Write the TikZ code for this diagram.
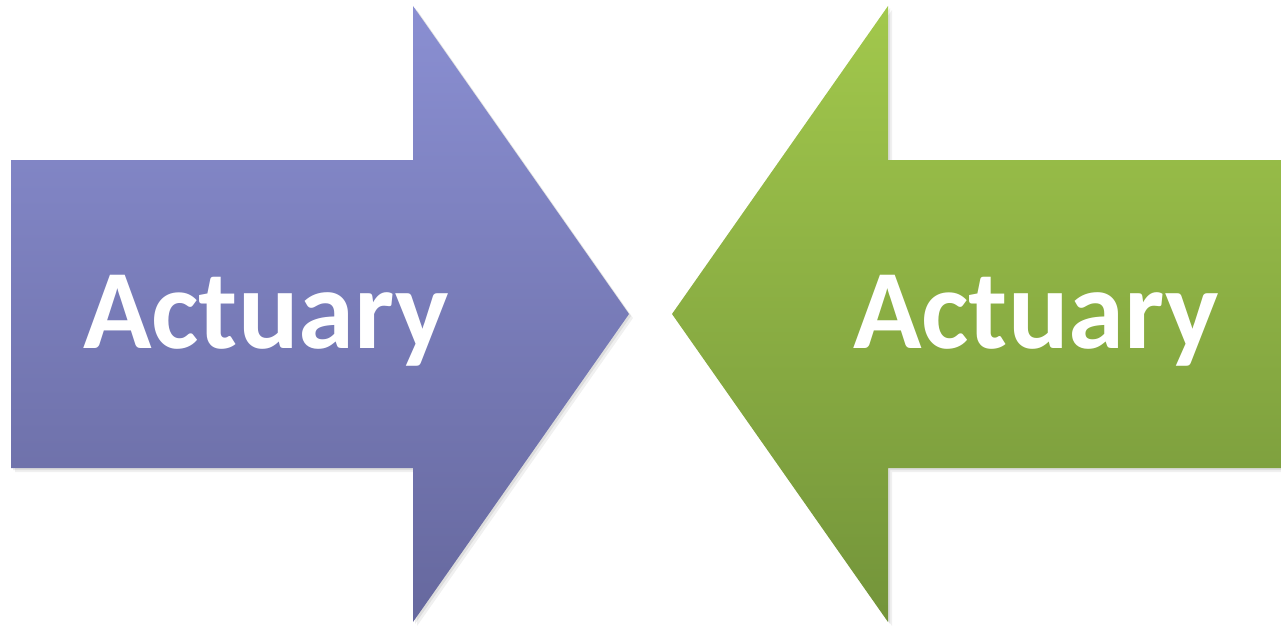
\documentclass[tikz,border=0pt]{standalone}
\usepackage{fontspec}
\setmainfont{Carlito}
\begin{document}
\begin{tikzpicture}[x=1pt,y=-1pt,
  leftarrow/.style={top color=lblueT,bottom color=lblueB,draw=none},
  rightarrow/.style={top color=lgreenT,bottom color=lgreenB,draw=none},
  label/.style={text=white,font=\bfseries\fontsize{113}{113}\selectfont,inner sep=0pt,anchor=base}]
\definecolor{lblueT}{HTML}{8A8FD2}
\definecolor{lblueB}{HTML}{66689E}
\definecolor{lgreenT}{HTML}{A2C84C}
\definecolor{lgreenB}{HTML}{73943A}
\useasboundingbox (0,0) rectangle (1281,626);
% shadows
\foreach \d/\o in {2/0.08,4/0.06}{
\fill[black,opacity=\o] (11+\d,160+\d) -- (413+\d,160+\d) -- (413+\d,6+\d) -- (629+\d,314+\d) -- (413+\d,622+\d) -- (413+\d,468+\d) -- (11+\d,468+\d) -- cycle;
\fill[black,opacity=\o] (1281,160+\d) -- (888+\d,160+\d) -- (888+\d,6+\d) -- (672+\d,314+\d) -- (888+\d,622+\d) -- (888+\d,468+\d) -- (1281,468+\d) -- cycle;
}
\path[leftarrow] (11,160) -- (413,160) -- (413,6) -- (629,314) -- (413,622) -- (413,468) -- (11,468) -- cycle;
\path[rightarrow] (1281,160) -- (888,160) -- (888,6) -- (672,314) -- (888,622) -- (888,468) -- (1281,468) -- cycle;
\node[label] (lt) at (266,348) {Actuary};
\node[label] (rt) at (1036,348) {Actuary};
\end{tikzpicture}
\end{document}
